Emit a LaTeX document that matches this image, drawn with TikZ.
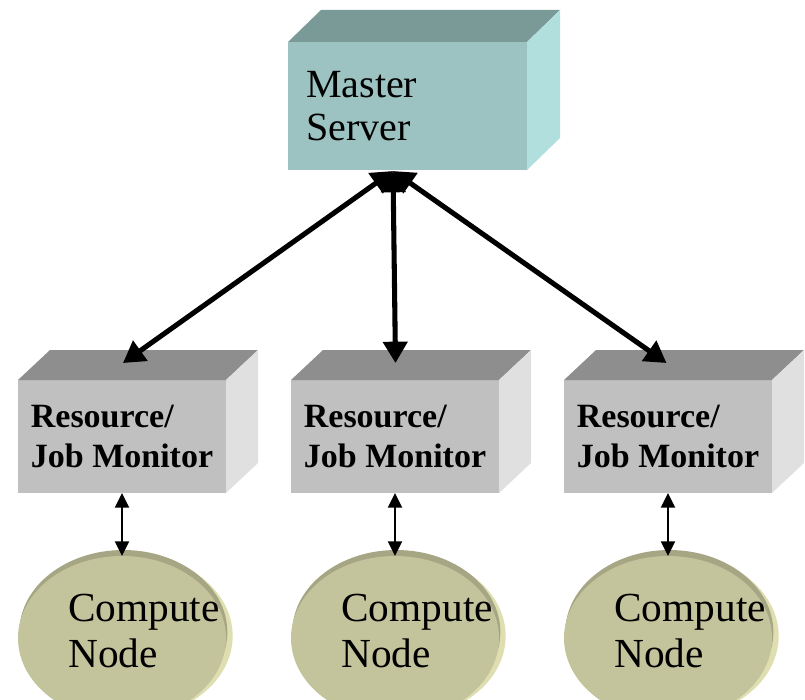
\documentclass[tikz,border=0pt]{standalone}
\usepackage{fontspec}
\setmainfont{Liberation Serif}
\usepackage{tikz}
\usetikzlibrary{calc,positioning,shapes.geometric,arrows.meta}
\definecolor{servertop}{HTML}{7A9A98}
\definecolor{serverfront}{HTML}{9CC3C1}
\definecolor{serverside}{HTML}{B0DFDE}
\definecolor{montop}{HTML}{8E8E8E}
\definecolor{monfront}{HTML}{C0C0C0}
\definecolor{monside}{HTML}{E0E0E0}
\definecolor{nodefront}{HTML}{C3C39C}
\definecolor{nodetop}{HTML}{A6A684}
\definecolor{noderim}{HTML}{DEDEB0}
% top and right faces of a box node
\newcommand{\boxfaces}[5]{%
  \fill[#4] (#1.north west) -- ([shift={(#2,-#3)}]#1.north west)
    -- ([shift={(#2,-#3)}]#1.north east) -- (#1.north east) -- cycle;
  \fill[#5] (#1.north east) -- ([shift={(#2,-#3)}]#1.north east)
    -- ([shift={(#2,-#3)}]#1.south east) -- (#1.south east) -- cycle;
}
\tikzset{
  server/.style={rectangle, fill=serverfront, minimum width=179.25pt,
    minimum height=96pt, text width=152pt, align=left, inner sep=0pt,
    outer sep=0pt, font=\fontsize{30}{32}\selectfont},
  monitor/.style={rectangle, fill=monfront, minimum width=156pt,
    minimum height=84.75pt, align=left, inner sep=0pt,
    outer sep=0pt, font=\bfseries\fontsize{25.5}{30}\selectfont},
  cnode/.style={ellipse, fill=nodefront, minimum width=156pt,
    minimum height=123pt, inner sep=0pt, outer sep=0pt,
    preaction={fill=noderim, transform canvas={xshift=5pt,yshift=1.5pt}},
    preaction={fill=nodetop, transform canvas={xshift=1pt,yshift=4.5pt}}},
  cntext/.style={anchor=west, align=left, inner sep=0pt,
    font=\fontsize{31}{35}\selectfont},
  link/.style={line width=3.8pt,
    {Triangle[length=16pt,width=18pt]}-{Triangle[length=16pt,width=18pt]}},
  sublink/.style={line width=1.6pt,
    {Triangle[length=11pt,width=10.5pt]}-{Triangle[length=11pt,width=10.5pt]}},
}

\begin{document}
\begin{tikzpicture}[x=0.75pt,y=-0.75pt]
\clip (0,0) rectangle (805,699);

% master server
\node[server] (master) at (407.5,106) {Master\\Server};
\boxfaces{master}{33}{32}{servertop}{serverside}

% monitors
\node[monitor] (mon1) at (122,436.5) {Resource/\\Job Monitor};
\node[monitor, right=48.75pt of mon1] (mon2) {Resource/\\Job Monitor};
\node[monitor, right=48.75pt of mon2] (mon3) {Resource/\\Job Monitor};
\foreach \m in {mon1,mon2,mon3}
  \boxfaces{\m}{32}{30}{montop}{monside};

% compute nodes
\foreach \i in {1,2,3} {
  \node[cnode] (cn\i) at ($(mon\i.south)+(0,145)$) {};
  \node[cntext] (cn\i t) at ($(cn\i)+(-54,-7)$) {Compute\\Node};
  \draw[sublink] (mon\i.south) -- (mon\i.south |- cn\i.north);
}

% links to the master
\coordinate (hub) at ($(master.south)+(-14.5,1)$);
\coordinate (top1) at ($(mon1.north)+(1,-17)$);
\coordinate (top2) at ($(mon2.north)+(0.5,-17)$);
\coordinate (top3) at ($(mon3.north)+(-1.5,-17)$);
\draw[link] (hub) -- (top1);
\draw[link] (hub) -- (top2);
\draw[link] (hub) -- (top3);
\end{tikzpicture}
\end{document}
